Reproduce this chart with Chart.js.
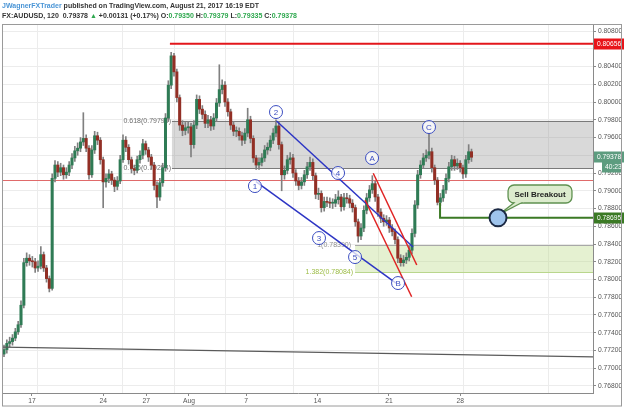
<!DOCTYPE html>
<html>
<head>
<meta charset="utf-8">
<script src="https://cdn.jsdelivr.net/npm/chart.js@4.4.1/dist/chart.umd.min.js"></script>
<style>
  html, body { margin: 0; padding: 0; background: #fff; }
  #wrap { position: relative; width: 624px; height: 408px; overflow: hidden; }
  #c { position: absolute; left: 0; top: 0; }
  #hdr { position: absolute; left: 2px; top: 1px; font: bold 7px "Liberation Sans", Arial, sans-serif; color: #333; line-height: 10px; white-space: nowrap; }
  #hdr .u { color: #4a95d6; }
  #hdr .g { color: #2fa84f; }
</style>
</head>
<body>
<div id="wrap">
  <canvas id="c" width="624" height="408"></canvas>
  <div id="hdr">
    <div><span class="u">JWagnerFXTrader</span> published on TradingView.com, August 21, 2017 16:19 EDT</div>
    <div>FX:AUDUSD, 120&nbsp; 0.79378 <span class="g">▲</span> +0.00131 (+0.17%) O:<span class="g">0.79350</span> H:<span class="g">0.79379</span> L:<span class="g">0.79335</span> C:<span class="g">0.79378</span></div>
  </div>
</div>
<script>
// time is counted in trading days from Mon 17 Jul (weekends removed), 4h candles
const startDay = -2;
const barsPerDay = 6;
const firstOpen = 0.7716;

const closes = [
  0.7721,0.7728,0.7730,0.7734,0.7741,0.7749,0.7771,0.7819,0.7824,0.7821,
  0.7820,0.7813,0.7815,0.7828,0.7813,0.7801,0.7790,0.7914,0.7929,0.7921,
  0.7926,0.7918,0.7921,0.7929,0.7937,0.7945,0.7948,0.7955,0.7959,0.7948,
  0.7918,0.7946,0.7962,0.7957,0.7935,0.7910,0.7914,0.7919,0.7912,0.7905,
  0.7911,0.7935,0.7957,0.7949,0.7935,0.7925,0.7923,0.7935,0.7940,0.7953,
  0.7946,0.7938,0.7929,0.7906,0.7893,0.7909,0.7926,0.7982,0.8019,0.8052,
  0.8034,0.8005,0.7974,0.7968,0.7971,0.7972,0.7952,0.7974,0.8003,0.7992,
  0.7986,0.7976,0.7980,0.7973,0.7982,0.7999,0.8014,0.8019,0.8000,0.7989,
  0.7974,0.7967,0.7967,0.7962,0.7957,0.7965,0.7980,0.7959,0.7937,0.7929,
  0.7932,0.7937,0.7946,0.7949,0.7957,0.7965,0.7973,0.7952,0.7918,0.7923,
  0.7935,0.7937,0.7920,0.7911,0.7906,0.7910,0.7918,0.7927,0.7932,0.7917,
  0.7896,0.7897,0.7881,0.7888,0.7887,0.7886,0.7886,0.7890,0.7893,0.7882,
  0.7892,0.7891,0.7886,0.7881,0.7865,0.7849,0.7858,0.7878,0.7892,0.7901,
  0.7908,0.7893,0.7876,0.7869,0.7865,0.7867,0.7858,0.7854,0.7845,0.7824,
  0.7819,0.7822,0.7825,0.7833,0.7852,0.7884,0.7918,0.7929,0.7937,0.7940,
  0.7944,0.7926,0.7912,0.7887,0.7892,0.7901,0.7914,0.7927,0.7935,0.7928,
  0.7931,0.7926,0.7919,0.7935,0.7944,0.79378
];
const highs = [
  0.7726,0.7732,0.7735,0.7738,0.7745,0.7753,0.7776,0.7824,0.7830,0.7828,
  0.7826,0.7824,0.7821,0.7837,0.7831,0.7816,0.7804,0.7919,0.7934,0.7933,
  0.7931,0.7929,0.7926,0.7933,0.7942,0.7950,0.7954,0.7960,0.7988,0.7963,
  0.7951,0.7951,0.7967,0.7966,0.7960,0.7938,0.7919,0.7924,0.7922,0.7915,
  0.7916,0.7940,0.7963,0.7961,0.7952,0.7938,0.7929,0.7939,0.7945,0.7958,
  0.7956,0.7949,0.7941,0.7932,0.7910,0.7914,0.7931,0.7987,0.8024,0.8056,
  0.8055,0.8037,0.8008,0.7979,0.7977,0.7978,0.7976,0.7979,0.8008,0.8007,
  0.7996,0.7990,0.7985,0.7984,0.7987,0.8004,0.8042,0.8025,0.8023,0.8004,
  0.7992,0.7978,0.7972,0.7971,0.7966,0.7970,0.7993,0.7984,0.7962,0.7940,
  0.7937,0.7942,0.7951,0.7954,0.7962,0.7970,0.7980,0.7977,0.7955,0.7928,
  0.7940,0.7943,0.7941,0.7924,0.7915,0.7915,0.7923,0.7932,0.7938,0.7936,
  0.7920,0.7903,0.7900,0.7893,0.7893,0.7892,0.7891,0.7896,0.7900,0.7896,
  0.7897,0.7897,0.7895,0.7890,0.7884,0.7868,0.7863,0.7883,0.7897,0.7906,
  0.7917,0.7911,0.7896,0.7880,0.7873,0.7872,0.7870,0.7862,0.7857,0.7848,
  0.7828,0.7827,0.7830,0.7838,0.7857,0.7889,0.7923,0.7934,0.7942,0.7946,
  0.7965,0.7948,0.7929,0.7915,0.7897,0.7906,0.7919,0.7932,0.7940,0.7939,
  0.7936,0.7934,0.7929,0.7940,0.7952,0.7947
];
const lows = [
  0.7713,0.7717,0.7724,0.7726,0.7731,0.7738,0.7746,0.7768,0.7815,0.7816,
  0.7814,0.7808,0.7809,0.7812,0.7809,0.7797,0.7786,0.7788,0.7910,0.7916,
  0.7917,0.7913,0.7914,0.7917,0.7925,0.7933,0.7940,0.7944,0.7951,0.7944,
  0.7913,0.7915,0.7942,0.7952,0.7930,0.7881,0.7904,0.7909,0.7907,0.7899,
  0.7901,0.7908,0.7932,0.7944,0.7930,0.7920,0.7918,0.7920,0.7931,0.7936,
  0.7941,0.7933,0.7924,0.7901,0.7881,0.7889,0.7905,0.7922,0.7978,0.8015,
  0.8029,0.8000,0.7968,0.7962,0.7963,0.7965,0.7938,0.7948,0.7970,0.7987,
  0.7981,0.7971,0.7971,0.7968,0.7969,0.7978,0.7995,0.8009,0.7995,0.7984,
  0.7969,0.7962,0.7961,0.7957,0.7951,0.7953,0.7961,0.7954,0.7932,0.7924,
  0.7924,0.7928,0.7933,0.7941,0.7945,0.7953,0.7961,0.7947,0.7900,0.7913,
  0.7919,0.7930,0.7915,0.7906,0.7901,0.7902,0.7906,0.7914,0.7923,0.7912,
  0.7891,0.7890,0.7876,0.7877,0.7882,0.7881,0.7880,0.7882,0.7885,0.7877,
  0.7878,0.7886,0.7881,0.7876,0.7860,0.7842,0.7845,0.7854,0.7874,0.7888,
  0.7897,0.7888,0.7871,0.7864,0.7860,0.7861,0.7853,0.7849,0.7840,0.7819,
  0.7815,0.7815,0.7818,0.7821,0.7829,0.7848,0.7880,0.7914,0.7925,0.7933,
  0.7936,0.7921,0.7907,0.7884,0.7883,0.7888,0.7897,0.7910,0.7923,0.7923,
  0.7924,0.7921,0.7914,0.7915,0.7931,0.7933
];

const dayTicks = [0, 5, 8, 11, 15, 20, 25, 30];
const dayLabels = ['17', '24', '27', 'Aug', '7', '14', '21', '28'];
const priceTicks = [0.768, 0.770, 0.772, 0.774, 0.776, 0.778, 0.780, 0.782, 0.784, 0.786,
  0.788, 0.790, 0.792, 0.794, 0.796, 0.798, 0.800, 0.802, 0.804, 0.806, 0.808];

// analyst drawings, in (trading day, price)
const resistance = { from: 7.76, price: 0.80656 };
const fibBox = { from: 7.88, top: 0.7979, bottom: 0.79254 };
const thinLevel = 0.7912;
const targetBand = { from: 18.65, top: 0.7839, bottom: 0.78084 };
const breakLevel = { from: 23.65, top: 0.78862, price: 0.78695 };
const longLine = [[-2.06, 0.77239], [32.65, 0.77127]];
const blueLines = [[[14.03, 0.79786], [22.06, 0.78366]], [[12.82, 0.79104], [21.06, 0.7796]]];
const redLines = [[[19.72, 0.79197], [22.28, 0.78163]], [[19.24, 0.78896], [21.98, 0.77806]]];
const waveLabels = [['1', 12.76, 0.79053], ['2', 14.0, 0.79887], ['3', 16.53, 0.78467], ['4', 17.65, 0.792],
  ['5', 18.65, 0.78253], ['A', 19.65, 0.79369], ['B', 21.18, 0.7796], ['C', 23.0, 0.79718]];
const signal = { day: 27.06, price: 0.78695 };
const callout = { from: 27.65, to: 31.41, top: 0.79065, bottom: 0.78862, text: 'Sell Breakout' };
const lastPrice = 0.79378;
const countdown = '40:23';

const opens = closes.map((c, i) => i ? closes[i - 1] : firstOpen);
const times = closes.map((c, i) => startDay + i / barsPerDay);
const UP = '#2f7b55', DOWN = '#922f25';
const FONT = '"Liberation Sans", Arial, sans-serif';

function rrect(ctx, x, y, w, h, r) {
  ctx.beginPath();
  ctx.moveTo(x + r, y);
  ctx.arcTo(x + w, y, x + w, y + h, r);
  ctx.arcTo(x + w, y + h, x, y + h, r);
  ctx.arcTo(x, y + h, x, y, r);
  ctx.arcTo(x, y, x + w, y, r);
  ctx.closePath();
}

const drawings = {
  id: 'drawings',
  beforeDatasetsDraw(chart) {
    const { ctx, chartArea: a, scales: { x, y } } = chart;
    const X = v => x.getPixelForValue(v), Y = v => y.getPixelForValue(v);
    ctx.save();
    ctx.beginPath(); ctx.rect(a.left, a.top, a.right - a.left, a.bottom - a.top); ctx.clip();
    // fib retracement box
    ctx.fillStyle = 'rgba(128,128,128,0.3)';
    ctx.fillRect(X(fibBox.from), Y(fibBox.top), a.right - X(fibBox.from), Y(fibBox.bottom) - Y(fibBox.top));
    ctx.strokeStyle = '#7a7a7a'; ctx.lineWidth = 1;
    [fibBox.top, fibBox.bottom].forEach(p => {
      ctx.beginPath(); ctx.moveTo(X(fibBox.from), Math.round(Y(p)) + 0.5); ctx.lineTo(a.right, Math.round(Y(p)) + 0.5); ctx.stroke();
    });
    ctx.font = '7px ' + FONT; ctx.textAlign = 'right'; ctx.textBaseline = 'middle';
    ctx.fillStyle = '#6f6f6f';
    ctx.fillText('0.618(' + fibBox.top.toFixed(5) + ')', X(fibBox.from) - 1, Y(fibBox.top));
    ctx.fillText('0.786(' + fibBox.bottom.toFixed(5) + ')', X(fibBox.from) - 1, Y(fibBox.bottom));
    // extension band
    ctx.fillStyle = 'rgba(190,220,140,0.4)';
    ctx.fillRect(X(targetBand.from), Y(targetBand.top), a.right - X(targetBand.from), Y(targetBand.bottom) - Y(targetBand.top));
    ctx.strokeStyle = '#a8a8a8';
    ctx.beginPath(); ctx.moveTo(X(targetBand.from), Math.round(Y(targetBand.top)) + 0.5); ctx.lineTo(a.right, Math.round(Y(targetBand.top)) + 0.5); ctx.stroke();
    ctx.strokeStyle = '#b9d68c';
    ctx.beginPath(); ctx.moveTo(X(targetBand.from), Math.round(Y(targetBand.bottom)) + 0.5); ctx.lineTo(a.right, Math.round(Y(targetBand.bottom)) + 0.5); ctx.stroke();
    ctx.fillStyle = '#8f8f8f';
    ctx.fillText('1(' + targetBand.top.toFixed(5) + ')', X(targetBand.from) - 4, Y(targetBand.top));
    ctx.fillStyle = '#9cbc45';
    ctx.fillText('1.382(' + targetBand.bottom.toFixed(5) + ')', X(targetBand.from) - 2, Y(targetBand.bottom));
    // thin red level
    ctx.strokeStyle = '#e06a6a';
    ctx.beginPath(); ctx.moveTo(a.left, Math.round(Y(thinLevel)) + 0.5); ctx.lineTo(a.right, Math.round(Y(thinLevel)) + 0.5); ctx.stroke();
    ctx.restore();
  },
  afterDatasetsDraw(chart) {
    const { ctx, chartArea: a, scales: { x, y } } = chart;
    const X = v => x.getPixelForValue(v), Y = v => y.getPixelForValue(v);
    ctx.save();
    ctx.beginPath(); ctx.rect(a.left, a.top, a.right - a.left, a.bottom - a.top); ctx.clip();
    const seg = (p, q, color, w) => {
      ctx.strokeStyle = color; ctx.lineWidth = w;
      ctx.beginPath(); ctx.moveTo(X(p[0]), Y(p[1])); ctx.lineTo(X(q[0]), Y(q[1])); ctx.stroke();
    };
    // resistance
    seg([resistance.from, resistance.price], [40, resistance.price], '#e3161b', 2);
    // long trendline
    seg(longLine[0], longLine[1], '#5a5a5a', 1.3);
    blueLines.forEach(l => seg(l[0], l[1], '#2d35c4', 1.5));
    redLines.forEach(l => seg(l[0], l[1], '#e02424', 1.5));
    // breakout level
    ctx.strokeStyle = '#3b7a25'; ctx.lineWidth = 2;
    ctx.beginPath();
    ctx.moveTo(X(breakLevel.from), Y(breakLevel.top));
    ctx.lineTo(X(breakLevel.from), Y(breakLevel.price));
    ctx.lineTo(a.right, Y(breakLevel.price));
    ctx.stroke();
    // wave labels
    ctx.font = '8px ' + FONT; ctx.textAlign = 'center'; ctx.textBaseline = 'middle';
    waveLabels.forEach(([t, d, p]) => {
      const cx = X(d), cy = Y(p);
      ctx.beginPath(); ctx.arc(cx, cy, 6.5, 0, Math.PI * 2);
      ctx.fillStyle = 'rgba(255,255,255,0.75)'; ctx.fill();
      ctx.strokeStyle = '#3a4cc0'; ctx.lineWidth = 1; ctx.stroke();
      ctx.fillStyle = '#3a4cc0'; ctx.fillText(t, cx, cy + 0.5);
    });
    // callout
    const bx = X(callout.from), bw = X(callout.to) - bx, by = Y(callout.top), bh = Y(callout.bottom) - by;
    const sx = X(signal.day), sy = Y(signal.price);
    ctx.fillStyle = '#dcebcd'; ctx.strokeStyle = '#5f9150'; ctx.lineWidth = 1.3;
    rrect(ctx, bx, by, bw, bh, 6); ctx.fill(); ctx.stroke();
    ctx.beginPath();
    ctx.moveTo(bx + 7, by + bh - 1); ctx.lineTo(sx + 2, sy - 4); ctx.lineTo(bx + 15, by + bh - 1);
    ctx.fill(); ctx.stroke();
    ctx.fillRect(bx + 6, by + bh - 3, 10, 2.2);
    ctx.font = 'bold 8px ' + FONT; ctx.fillStyle = '#1e1e1e';
    ctx.fillText(callout.text, bx + bw / 2, by + bh / 2 + 0.5);
    // signal circle
    ctx.beginPath(); ctx.arc(sx, sy, 8.5, 0, Math.PI * 2);
    ctx.fillStyle = '#9fc4ec'; ctx.fill();
    ctx.strokeStyle = '#1c2a45'; ctx.lineWidth = 2; ctx.stroke();
    ctx.restore();
  },
  afterDraw(chart) {
    const { ctx, chartArea: a, scales: { y } } = chart;
    const Y = v => y.getPixelForValue(v);
    ctx.save();
    ctx.font = '6.7px ' + FONT; ctx.textAlign = 'left'; ctx.textBaseline = 'middle';
    const flag = (p, text, bg, x0, x1, dy) => {
      const cy = Math.round(Y(p) + (dy || 0));
      ctx.fillStyle = bg; ctx.fillRect(x0, cy - 5.5, x1 - x0, 11);
      ctx.fillStyle = '#fff'; ctx.fillText(text, x0 + 3, cy + 0.5);
    };
    flag(resistance.price, resistance.price.toFixed(5), '#e8141a', a.right + 1, 624);
    flag(lastPrice, lastPrice.toFixed(5), '#5d9c7f', a.right + 1, 624);
    flag(lastPrice, countdown, '#5d9c7f', a.right + 9, 622, 10);
    flag(breakLevel.price, breakLevel.price.toFixed(5), '#3b7a25', a.right + 1, 624);
    // outer frame
    ctx.strokeStyle = '#9a9a9a'; ctx.lineWidth = 1;
    ctx.strokeRect(2.5, 24.5, 619, 381.5);
    ctx.restore();
  }
};

const flagPrices = [resistance.price, lastPrice, breakLevel.price];

new Chart(document.getElementById('c'), {
  type: 'bar',
  data: {
    datasets: [
      {
        label: 'body',
        data: times.map((t, i) => ({ x: t, y: [opens[i], closes[i]] })),
        backgroundColor: ctx => closes[ctx.dataIndex] >= opens[ctx.dataIndex] ? UP : DOWN,
        barThickness: 2.4,
        minBarLength: 1,
        grouped: false,
        order: 0
      },
      {
        label: 'wick',
        data: times.map((t, i) => ({ x: t, y: [lows[i], highs[i]] })),
        backgroundColor: '#808080',
        barThickness: 1,
        grouped: false,
        order: 1
      }
    ]
  },
  options: {
    responsive: false,
    devicePixelRatio: 1,
    animation: false,
    layout: { padding: { top: 25, left: 3, right: 0, bottom: 0 } },
    plugins: { legend: { display: false }, tooltip: { enabled: false } },
    scales: {
      x: {
        type: 'linear', min: -2.0588, max: 32.647, offset: false,
        grid: { color: '#ececec', offset: false, drawTicks: false },
        border: { display: true, color: '#8a8a8a' },
        ticks: { display: false },
        afterBuildTicks: s => { s.ticks = dayTicks.map(v => ({ value: v })); },
        afterFit: s => { s.height = 0; }
      },
      xl: {
        type: 'linear', axis: 'x', position: 'bottom', min: -2.0252, max: 39.292, offset: false,
        grid: { display: true, drawOnChartArea: false, tickLength: 3, color: '#8a8a8a', offset: false },
        border: { display: false },
        ticks: { color: '#555', font: { size: 6.7, family: FONT }, padding: 1, maxRotation: 0, autoSkip: false,
          callback: (v, i) => dayLabels[i] },
        afterBuildTicks: s => { s.ticks = dayTicks.map(v => ({ value: v })); },
        afterFit: s => { s.height = 15; }
      },
      y: {
        position: 'right', min: 0.76721, max: 0.80868,
        grid: { color: '#ececec', tickLength: 3, tickColor: '#8a8a8a' },
        border: { color: '#8a8a8a' },
        ticks: { color: '#555', font: { size: 6.7, family: FONT }, padding: 2,
          callback: v => flagPrices.some(p => Math.abs(p - v) < 0.0009) ? '' : v.toFixed(5) },
        afterBuildTicks: s => { s.ticks = priceTicks.map(v => ({ value: v })); },
        afterFit: s => { s.width = 31; }
      }
    }
  },
  plugins: [drawings]
});
</script>
</body>
</html>
